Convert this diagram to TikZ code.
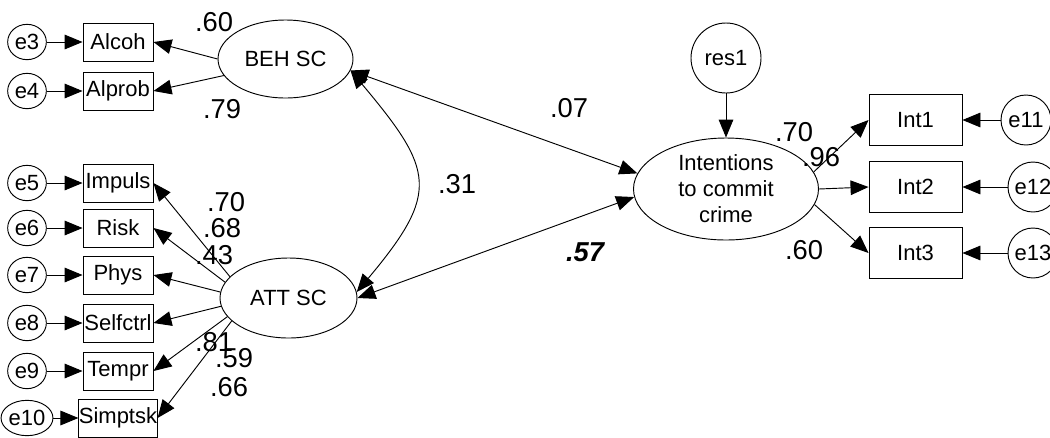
\documentclass[tikz,border=0pt]{standalone}
\usepackage{fontspec}
\setmainfont{Liberation Sans}
\usetikzlibrary{arrows.meta,shapes.geometric}

\begin{document}
\begin{tikzpicture}[x=0.75pt,y=0.75pt,
  >={Triangle[length=13.5pt,width=11pt]},
  line width=0.7pt,
  nodefont/.style={font=\fontsize{16.5}{19.5}\selectfont},
  obs/.style={draw,rectangle,inner sep=0pt,minimum width=52.5pt,minimum height=28.5pt,nodefont},
  obsbig/.style={draw,rectangle,inner sep=0pt,minimum width=69.75pt,minimum height=38.25pt,nodefont},
  errsmall/.style={draw,ellipse,inner sep=0pt,minimum width=29pt,minimum height=26.5pt,nodefont},
  errbig/.style={draw,circle,inner sep=0pt,minimum size=37.5pt,nodefont},
  latent/.style={draw,ellipse,inner sep=0pt,nodefont,align=center},
  coef/.style={inner sep=0pt,font=\fontsize{20.5}{24}\selectfont},
  path/.style={->},
  cov/.style={<->}]

\useasboundingbox (0,0) rectangle (1050,-437);

% latent variables
\node[latent,minimum width=101.25pt,minimum height=58.5pt] (beh) at (285.5,-59) {BEH SC};
\node[latent,minimum width=102.75pt,minimum height=60pt] (att) at (288.5,-298) {ATT SC};
\node[latent,minimum width=138.75pt,minimum height=76.5pt] (intent) at (726,-189) {Intentions\\to commit\\crime};
\node[draw,circle,inner sep=0pt,minimum size=52.5pt,nodefont] (res1) at (726,-58) {res1};

% indicators of BEH SC
\node[obs] (alcoh)  at (118,-42) {Alcoh};
\node[obs] (alprob) at (118,-91) {Alprob};
\node[errsmall] (e3) at (27,-42) {e3};
\node[errsmall] (e4) at (27,-91) {e4};

% indicators of ATT SC
\node[obs] (impuls)   at (118,-183) {Impuls};
\node[obs] (risk)     at (118,-228) {Risk};
\node[obs] (phys)     at (118,-275) {Phys};
\node[obs] (selfctrl) at (118,-323) {Selfctrl};
\node[obs] (tempr)    at (118,-371) {Tempr};
\node[obs] (simptsk)  at (118,-418) {Simptsk};
\node[errsmall] (e5)  at (27,-183) {e5};
\node[errsmall] (e6)  at (27,-228) {e6};
\node[errsmall] (e7)  at (27,-275) {e7};
\node[errsmall] (e8)  at (27,-323) {e8};
\node[errsmall] (e9)  at (27,-371) {e9};
\node[errsmall] (e10) at (27,-418) {e10};

% indicators of intentions
\node[obsbig] (int1) at (915.5,-120) {Int1};
\node[obsbig] (int2) at (915.5,-187) {Int2};
\node[obsbig] (int3) at (915.5,-253) {Int3};
\node[errbig] (e11) at (1026,-120) {e11};
\node[errbig] (e12) at (1033,-187) {e12};
\node[errbig] (e13) at (1033,-253) {e13};

% error terms
\foreach \e/\o in {e3/alcoh,e4/alprob,e5/impuls,e6/risk,e7/phys,e8/selfctrl,e9/tempr,e10/simptsk,e11/int1,e12/int2,e13/int3}
  \draw[path] (\e) -- (\o);

% loadings
\draw[path] (beh.180) -- (alcoh.east);
\draw[path] (beh.195) -- (alprob.east);
\draw[path] (att.160) -- (impuls.east);
\draw[path] (att.166) -- (risk.east);
\draw[path] (att.175) -- (phys.east);
\draw[path] (att.187) -- (selfctrl.east);
\draw[path] (att.197) -- (tempr.east);
\draw[path] (att.202) -- (simptsk.east);
\draw[path] (intent.11) -- (int1.west);
\draw[path] (intent.east) -- (int2.west);
\draw[path] (intent.-10) -- (int3.west);
\draw[path] (res1) -- (intent.north);

% structural paths and covariance
\draw[cov] (beh.350) -- (intent.170);
\draw[cov] (att.east) -- (intent.185);
\draw[cov] (beh.350) to[out=-50,in=50,looseness=1.5] (att.5);

% coefficients
\node[coef] (c60a) at (214,-22)  {.60};
\node[coef] (c79)  at (222,-109) {.79};
\node[coef] (c07)  at (569,-108) {.07};
\node[coef] (c31)  at (457,-184) {.31};
\node[coef,font=\fontsize{20.5}{24}\selectfont\bfseries\itshape] (c57) at (585,-252) {.57};
\node[coef] (c70a) at (226,-202) {.70};
\node[coef] (c68)  at (222,-228) {.68};
\node[coef] (c43)  at (214,-255) {.43};
\node[coef] (c81)  at (214,-342) {.81};
\node[coef] (c59)  at (234,-358) {.59};
\node[coef] (c66)  at (229,-387) {.66};
\node[coef] (c70b) at (794,-132) {.70};
\node[coef] (c96)  at (821,-157) {.96};
\node[coef] (c60b) at (804,-250) {.60};

\end{tikzpicture}
\end{document}
